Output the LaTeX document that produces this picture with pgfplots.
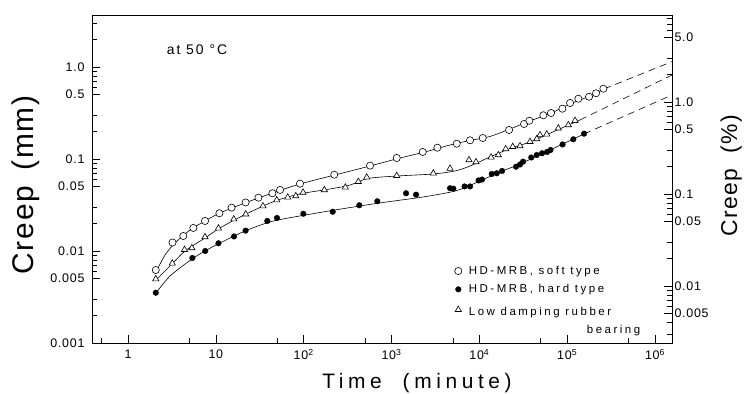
\documentclass[border=0pt]{standalone}
\usepackage{fontspec}
\setmainfont{Liberation Sans}[LetterSpace=6]
\newfontfamily\widefont{Liberation Sans}[LetterSpace=22]
\newfontfamily\midfont{Liberation Sans}[LetterSpace=14]
\usepackage{pgfplots}
\pgfplotsset{compat=1.18}

\pgfplotstableread{
x y
2.07 0.00621
3.21 0.01237
4.26 0.01455
5.54 0.0178
7.53 0.0212
10.96 0.0257
15.1 0.0296
21.8 0.0337
30.5 0.0380
44.0 0.0424
53.8 0.0461
90.8 0.0539
223 0.0675
569 0.0846
1146 0.1025
2265 0.1192
3324 0.1327
5525 0.1466
7834 0.1596
10920 0.169
21780 0.2066
32270 0.240
37070 0.2607
53470 0.2985
65460 0.316
88100 0.352
107800 0.406
133900 0.452
177300 0.475
213200 0.518
258200 0.581
}\softpts

\pgfplotstableread{
x y
2.07 0.00352
5.40 0.0084
7.57 0.0100
10.7 0.01213
16.1 0.01438
21.8 0.01663
38.5 0.0212
49.7 0.02284
99.1 0.0254
214 0.0267
430 0.0314
689 0.0347
1463 0.0424
1902 0.0409
4636 0.0481
5053 0.0476
6780 0.0503
7834 0.0503
9790 0.0584
10720 0.0598
13830 0.0687
15770 0.0699
18120 0.0741
26170 0.0824
29040 0.0871
31420 0.0935
38990 0.1038
44980 0.1105
51760 0.1154
59020 0.1192
64570 0.1253
88470 0.1438
117500 0.1637
155600 0.1884
}\hardpts

\pgfplotstableread{
x y
2.07 0.00496
3.19 0.00735
4.40 0.01033
5.33 0.0108
7.53 0.0142
10.7 0.01766
16.0 0.0222
21.9 0.0251
34.4 0.0308
49.3 0.0358
65.8 0.0383
81.2 0.0396
98.3 0.0433
172 0.0461
298 0.0492
419 0.0566
522 0.0632
1146 0.0658
2990 0.0699
4636 0.0788
7625 0.0975
9160 0.0928
13590 0.1043
16450 0.1105
19950 0.1285
23980 0.136
29040 0.1385
37740 0.1542
44980 0.165
49070 0.1824
58480 0.1855
79250 0.2158
103000 0.2343
122800 0.2607
}\lowpts

\pgfplotstableread{
x y
2.08 0.00591
2.64 0.00905
3.43 0.01222
5.08 0.0169
7.53 0.0212
11.15 0.0259
21.5 0.0333
41.4 0.0417
90.8 0.0535
227 0.0670
569 0.0839
1250 0.1025
2404 0.1192
4636 0.1419
7834 0.1589
13240 0.1758
22340 0.2118
37740 0.2589
63800 0.3124
107800 0.396
182000 0.484
263000 0.577
}\softcurve

\pgfplotstableread{
x y
2.08 0.00484
3.17 0.00722
4.46 0.0100
7.53 0.01385
11.15 0.0178
21.5 0.0249
47.2 0.0349
90.8 0.0417
199.5 0.0472
337 0.0521
540 0.0614
1156 0.0653
2970 0.0687
5280 0.0741
7834 0.0839
13240 0.1052
22340 0.130
37740 0.1531
72700 0.2015
140000 0.2655
}\lowcurve

\pgfplotstableread{
x y
2.08 0.00349
3.01 0.00535
5.35 0.00818
7.53 0.0100
11.15 0.01222
21.5 0.0165
41.4 0.0207
69.9 0.0230
227 0.0279
740 0.0333
2112 0.0382
4180 0.0427
6030 0.0466
10180 0.0577
17180 0.0722
29040 0.0883
63800 0.1253
155600 0.187
}\hardcurve

\begin{document}
\begin{tikzpicture}
\useasboundingbox (-92bp,-51bp) rectangle (655bp,343bp);
\begin{axis}[
  at={(0,0)}, anchor=south west,
  width=580bp, height=328bp, scale only axis,
  xmode=log, ymode=log,
  xmin=0.389, xmax=1.56e6, ymin=0.001, ymax=3.67,
  axis line style={line width=0.8bp},
  tick style={black, line width=0.7bp},
  tick align=inside,
  major tick length=8bp, minor tick length=5bp,
  xtick pos=bottom, ytick pos=left,
  xtick={1,10,100,1000,10000,100000,1000000},
  xticklabels={1,10,10\textsuperscript{2},10\textsuperscript{3},10\textsuperscript{4},10\textsuperscript{5},10\textsuperscript{6}},
  minor xtick={0.5,5,50,500,5000,50000,500000},
  ytick={0.001,0.005,0.01,0.05,0.1,0.5,1},
  yticklabels={0.001,0.005,0.01,0.05,0.1,0.5,1.0},
  minor ytick={0.002,0.003,0.006,0.007,0.008,0.009,0.02,0.03,0.06,0.07,0.08,0.09,0.2,0.3,0.6,0.7,0.8,0.9,2,3},
  /pgf/number format/assume math mode=true,
  ticklabel style={font=\fontsize{12.5}{14}\selectfont},
  xticklabel style={yshift=-3bp},
  yticklabel style={xshift=-4bp},
  legend style={at={(0.625,0.241)}, anchor=north west, draw=none, fill=none,
    font=\widefont\fontsize{11.5}{18}\selectfont, inner sep=0pt, row sep=4.5bp,
    /tikz/every odd column/.append style={column sep=5bp}},
  legend cell align=left,
]
\addplot[black, line width=0.6bp, smooth, forget plot] table {\softcurve};
\addplot[black, line width=0.6bp, smooth, forget plot] table {\lowcurve};
\addplot[black, line width=0.6bp, smooth, forget plot] table {\hardcurve};
\addplot[black, line width=0.6bp, dash pattern=on 7bp off 5bp, forget plot] coordinates {(263000,0.577) (1.56e6,1.142)};
\addplot[black, line width=0.6bp, dash pattern=on 7bp off 5bp, forget plot] coordinates {(140000,0.2655) (1.56e6,0.818)};
\addplot[black, line width=0.6bp, dash pattern=on 7bp off 5bp, forget plot] coordinates {(155600,0.187) (1.56e6,0.496)};
\addplot[only marks, mark=*, mark size=3.6bp, mark options={fill=white, draw=black, line width=0.6bp}] table {\softpts};
\addlegendentry{HD-MRB, soft type}
\addplot[only marks, mark=*, mark size=2.8bp, mark options={fill=black, draw=black}] table {\hardpts};
\addlegendentry{HD-MRB, hard type}
\addplot[only marks, mark=triangle*, mark size=3.6bp, mark options={fill=white, draw=black, line width=0.6bp}] table {\lowpts};
\addlegendentry{\begin{tabular}[t]{@{}l@{}}Low damping rubber\\\hspace*{118bp}bearing\end{tabular}}
\end{axis}
\begin{axis}[
  at={(0,0)}, anchor=south west,
  width=580bp, height=328bp, scale only axis,
  xmode=log, ymode=log,
  xmin=0.389, xmax=1.56e6, ymin=0.0024, ymax=8.808,
  axis line style={line width=0.8bp},
  tick style={black, line width=0.7bp},
  tick align=inside,
  major tick length=8bp, minor tick length=5bp,
  xmajorticks=false, xminorticks=false,
  ytick pos=right, yticklabel pos=right,
  ytick={0.005,0.01,0.05,0.1,0.5,1,5},
  yticklabels={0.005,0.01,0.05,0.1,0.5,1.0,5.0},
  minor ytick={0.003,0.004,0.006,0.007,0.008,0.009,0.02,0.03,0.06,0.07,0.08,0.09,0.2,0.3,0.6,0.7,0.8,0.9,2,3,6,7,8},
  /pgf/number format/assume math mode=true,
  ticklabel style={font=\fontsize{12.5}{14}\selectfont},
  yticklabel style={xshift=-1bp},
]
\end{axis}
\node[font=\fontsize{30}{34}\selectfont, rotate=90, anchor=base] at (-58.5bp,158bp) {Creep\,\ (mm)};
\node[font=\fontsize{23}{26}\selectfont, rotate=90, anchor=base] at (645bp,167bp) {Creep\ \ (\%)};
\node[font=\widefont\fontsize{21}{24}\selectfont] at (325bp,-40bp) {Time\ \ (minute)};
\node[font=\midfont\fontsize{14}{16}\selectfont] at (105bp,293bp) {at 50 °C};
\end{tikzpicture}
\end{document}
